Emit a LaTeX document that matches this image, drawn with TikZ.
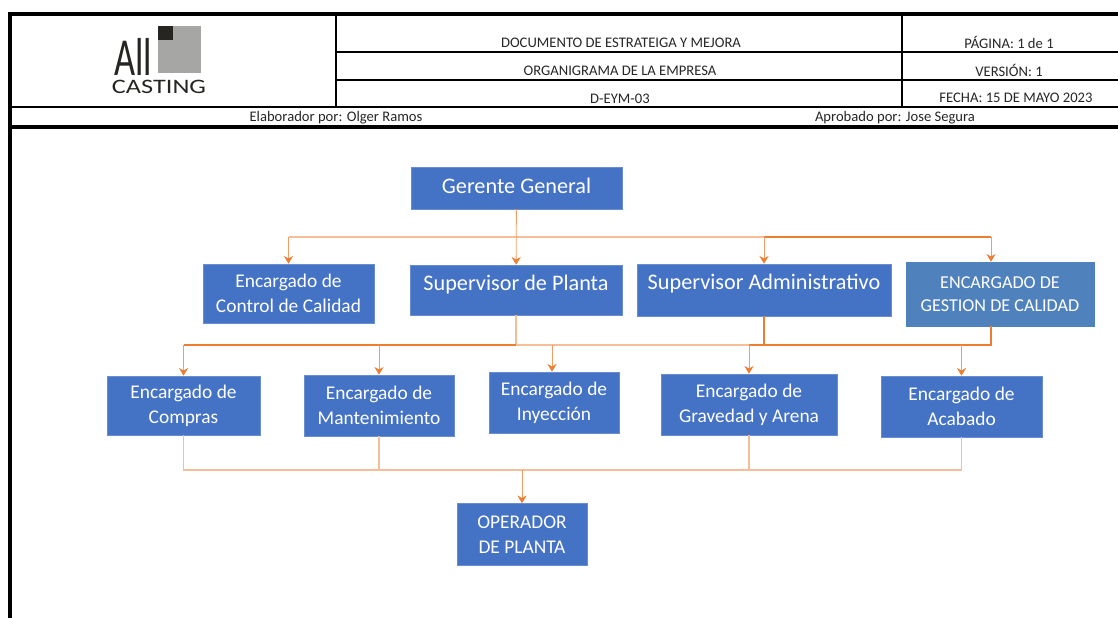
\documentclass[tikz,border=0pt]{standalone}
\usepackage{fontspec}
\setmainfont{Carlito}
\usetikzlibrary{arrows.meta}
\definecolor{boxblue}{HTML}{4472C4}
\definecolor{boxsteel}{HTML}{4F81BD}
\definecolor{palelink}{HTML}{F6BE98}
\definecolor{darklink}{HTML}{ED7D31}
\definecolor{logogray}{HTML}{A6A6A4}
\definecolor{logodark}{HTML}{262522}
\newcommand{\boxfont}{\fontsize{13.8}{17.7}\selectfont}
\newcommand{\bigboxfont}{\fontsize{15.8}{19}\selectfont}
\newcommand{\capsfont}{\fontsize{12.9}{16.5}\selectfont}
\newcommand{\headfont}{\fontsize{10.4}{12}\selectfont}
\tikzset{
  orgbox/.style={draw=boxblue!80!white,fill=boxblue,text=white,inner sep=0pt,align=center,font=\boxfont},
  headtext/.style={inner sep=0pt,text=black!85,font=\headfont},
  palewire/.style={draw=palelink,line width=0.8pt},
  darkwire/.style={draw=darklink,line width=0.8pt}
}

\begin{document}
\begin{tikzpicture}[x=0.025cm,y=-0.025cm]
    \useasboundingbox (0,0) rectangle (1118,618);

    % header frame
    \draw[line width=2.5pt] (1118,14) -- (10,14) -- (10,618);
    \draw[line width=2.5pt] (10,127) -- (1118,127);
    \draw[line width=0.8pt] (10,107) -- (1118,107);
    \draw[line width=0.8pt] (336,14) -- (336,107);
    \draw[line width=0.8pt] (902,14) -- (902,107);
    \draw[line width=0.8pt] (336,52) -- (1118,52);
    \draw[line width=0.8pt] (336,80) -- (1118,80);

    % logo
    \fill[logogray] (158,26) rectangle (201,73);
    \fill[logodark] (158,26) rectangle (173,40);
    \node[inner sep=0pt,text=logodark,xscale=0.68,font=\fontsize{38}{38}\selectfont] (LA) at (133,56.5) {All};
    \node[inner sep=0pt,text=logodark,xscale=1.28,font=\fontsize{14.6}{15}\selectfont] (LC) at (159,87) {CASTING};

    \begin{scope}[every node/.style={headtext}]
      \node (H1) at (621,42.5) {DOCUMENTO DE ESTRATEIGA Y MEJORA};
      \node (H2) at (620,70.5) {ORGANIGRAMA DE LA EMPRESA};
      \node (H3) at (620,98.5) {D-EYM-03};
      \node (P1) at (1009,42) {PÁGINA: 1 de 1};
      \node (P2) at (1009,70) {VERSIÓN: 1};
      \node (P3) at (1016,98) {FECHA: 15 DE MAYO 2023};
      \node (E1) at (336,117.5) {Elaborador por: Olger Ramos};
      \node (E2) at (895,117.5) {Aprobado por: Jose Segura};
    \end{scope}

    % boxes
    \begin{scope}[every node/.style={orgbox}]
      \node[minimum width=211*0.025cm,minimum height=42*0.025cm,font=\bigboxfont] (GG) at (516.5,188) {\raisebox{3pt}{Gerente General}};

      \node[minimum width=171*0.025cm,minimum height=59*0.025cm] (CC) at (288.5,293.5) {Encargado de\\Control de Calidad};
      \node[minimum width=212*0.025cm,minimum height=50*0.025cm,font=\bigboxfont] (SP) at (516,290) {\raisebox{10pt}{Supervisor de Planta}};
      \node[minimum width=254*0.025cm,minimum height=52*0.025cm,font=\bigboxfont] (SA) at (764,290) {\raisebox{11pt}{Supervisor Administrativo}};
      \node[minimum width=188*0.025cm,minimum height=64*0.025cm,fill=boxsteel,draw=boxsteel,font=\capsfont] (GC) at (1000,294) {ENCARGADO DE\\GESTION DE CALIDAD};

      \node[minimum width=153*0.025cm,minimum height=59*0.025cm] (EC) at (183.5,405.5) {Encargado de\\Compras};
      \node[minimum width=150*0.025cm,minimum height=61*0.025cm] (EM) at (379,405.5) {Encargado de\\Mantenimiento};
      \node[minimum width=130*0.025cm,minimum height=61*0.025cm] (EI) at (554,402.5) {Encargado de\\Inyección};
      \node[minimum width=176*0.025cm,minimum height=61*0.025cm] (EG) at (749,404.5) {Encargado de\\Gravedad y Arena};
      \node[minimum width=161*0.025cm,minimum height=61*0.025cm] (EA) at (961.5,406.5) {Encargado de\\Acabado};

      \node[minimum width=130*0.025cm,minimum height=62*0.025cm] (OP) at (522,534.5) {OPERADOR\\DE PLANTA};
    \end{scope}

    % junctions
    \coordinate (T0) at (SP |- 0,237);
    \coordinate (T1) at (CC |- T0);
    \coordinate (T2) at (SA |- T0);
    \coordinate (T3) at (991,237);
    \coordinate (M0) at (SP |- 0,345);
    \coordinate (M1) at (EC |- M0);
    \coordinate (M2) at (EM |- M0);
    \coordinate (M3) at (552,345);
    \coordinate (M4) at (EG |- M0);
    \coordinate (M5) at (SA |- M0);
    \coordinate (M6) at (EA |- M0);
    \coordinate (M7) at (T3 |- M0);
    \coordinate (B0) at (OP |- 0,470);
    \coordinate (B1) at (EC |- B0);
    \coordinate (B2) at (EM |- B0);
    \coordinate (B3) at (EG |- B0);
    \coordinate (B4) at (EA |- B0);

    \draw[palewire] (T1) -- (T2);
    \draw[palewire] (M0) -- (M4);
    \draw[palewire] (SP) -- (M0);
    \draw[palewire] (EC) -- (B1) -- (B2);
    \draw[palewire] (EM) -- (B2) -- (B4) -- (EA);
    \draw[palewire] (EG) -- (B3);
    \draw[darkwire] (T2) -- (T3);
    \draw[darkwire] (M0) -- (M1);
    \draw[darkwire] (M4) -- (M5);
    \draw[darkwire] (SA) -- (M5) -- (M7) -- (T3 |- GC.south);

    \begin{scope}[>={Stealth[length=5.5pt,width=6.5pt,darklink]},
        every edge/.style={draw=darklink!75!white,line width=0.6pt}]
      \path [->] (GG) edge (SP);
      \path [->] (T1) edge (CC);
      \path [->] (T2) edge (SA);
      \path [->] (T3) edge (T3 |- GC.north);
      \path [->] (M1) edge (EC);
      \path [->] (M2) edge (EM);
      \path [->] (M3) edge (M3 |- EI.north);
      \path [->] (M4) edge (EG);
      \path [->] (M6) edge (EA);
      \path [->] (B0) edge (OP);
    \end{scope}
  \end{tikzpicture}
\end{document}
